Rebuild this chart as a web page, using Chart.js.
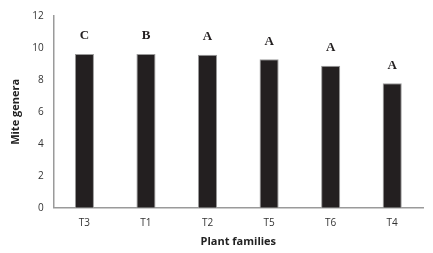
<!DOCTYPE html>
<html>
<head>
<meta charset="utf-8">
<script src="https://cdn.jsdelivr.net/npm/chart.js@4"></script>
<style>
  html, body { margin: 0; padding: 0; background: #fff; }
  #wrap { width: 433px; height: 253px; position: relative; }
</style>
</head>
<body>
<div id="wrap"><canvas id="grafico"></canvas></div>
<script>
// datos
const familias = ['T3', 'T1', 'T2', 'T5', 'T6', 'T4'];
const generos = [9.63, 9.63, 9.57, 9.30, 8.88, 7.79];
const letras = ['C', 'B', 'A', 'A', 'A', 'A'];
const ticksY = [0, 2, 4, 6, 8, 10, 12];

// letras de significancia encima de cada barra
const pluginLetras = {
    id: 'letras',
    afterDatasetsDraw(chart) {
        const ctx = chart.ctx;
        const meta = chart.getDatasetMeta(0);
        ctx.save();
        ctx.fillStyle = '#231f20';
        ctx.font = 'bold 13px "Liberation Serif", "DejaVu Serif", serif';
        ctx.textAlign = 'center';
        ctx.textBaseline = 'middle';
        meta.data.forEach(function(bar, i) {
            ctx.fillText(letras[i], bar.x, bar.y - 18);
        });
        ctx.restore();
    }
};

new Chart(document.getElementById('grafico'), {
    type: 'bar',
    data: {
        labels: familias,
        datasets: [{
            data: generos,
            backgroundColor: '#231f20',
            borderColor: '#9a9a9a',
            borderWidth: 1,
            barPercentage: 0.31,
            categoryPercentage: 1
        }]
    },
    options: {
        responsive: true,
        maintainAspectRatio: false,
        animation: false,
        layout: { padding: { top: 1, right: 10, left: 9, bottom: 5 } },
        plugins: { legend: { display: false }, tooltip: { enabled: false } },
        scales: {
            x: {
                grid: { display: false, drawTicks: false },
                border: { color: '#9a9a9a', width: 1.5 },
                ticks: { color: '#333', padding: 9, font: { family: 'Open Sans', size: 10 } },
                title: { display: true, text: 'Plant families', color: '#222', padding: { top: -3, bottom: 0 },
                         font: { family: 'Open Sans', size: 11, weight: 'bold' } }
            },
            y: {
                min: 0,
                max: 12,
                afterBuildTicks(axis) { axis.ticks = ticksY.map(v => ({ value: v })); },
                grid: { display: false, drawTicks: false },
                border: { color: '#9a9a9a', width: 1.5 },
                ticks: { color: '#333', padding: 10, font: { family: 'Open Sans', size: 10 } },
                title: { display: true, text: 'Mite genera', color: '#222', padding: { top: 0, bottom: 0 },
                         font: { family: 'Open Sans', size: 11, weight: 'bold' } }
            }
        }
    },
    plugins: [pluginLetras]
});
</script>
</body>
</html>
